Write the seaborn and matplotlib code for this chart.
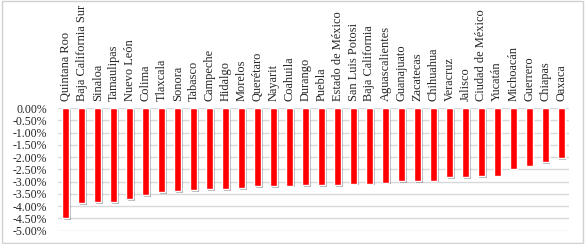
import matplotlib
matplotlib.use("Agg")
import matplotlib.pyplot as plt
import matplotlib.patheffects as pe
from matplotlib.ticker import FuncFormatter
import pandas as pd
import seaborn as sns

states = [
    "Quintana Roo", "Baja California Sur", "Sinaloa", "Tamaulipas", "Nuevo León",
    "Colima", "Tlaxcala", "Sonora", "Tabasco", "Campeche", "Hidalgo", "Morelos",
    "Querétaro", "Nayarit", "Coahuila", "Durango", "Puebla", "Estado de México",
    "San Luis Potosi", "Baja California", "Aguascalientes", "Guanajuato",
    "Zacatecas", "Chihuahua", "Veracruz", "Jalisco", "Ciudad de México",
    "Yucatán", "Michoacán", "Guerrero", "Chiapas", "Oaxaca",
]
change_pct = [
    -4.49, -3.89, -3.85, -3.84, -3.72, -3.56, -3.44, -3.38, -3.36, -3.32,
    -3.32, -3.28, -3.19, -3.18, -3.16, -3.15, -3.14, -3.14, -3.08, -3.08,
    -3.05, -2.99, -2.99, -2.96, -2.81, -2.81, -2.78, -2.76, -2.47, -2.35,
    -2.22, -2.04,
]
y_ticks = [-5.0, -4.5, -4.0, -3.5, -3.0, -2.5, -2.0, -1.5, -1.0, -0.5, 0.0]

df = pd.DataFrame({"state": states, "change": change_pct})

sns.set_style("white")
plt.rcParams["font.family"] = ["Liberation Serif", "DejaVu Serif"]

fig = plt.figure(figsize=(5.85, 2.44), dpi=100)
ax = fig.add_axes([0.099, 0.055, 0.874, 0.502])

sns.barplot(data=df, x="state", y="change", color="#ff0000", saturation=1,
            width=0.44, ax=ax, zorder=3)

# drop shadow like the original office chart
for bar in ax.patches:
    bar.set_path_effects([
        pe.SimplePatchShadow(offset=(1.2, -1.2), shadow_rgbFace="#404040", alpha=0.4),
        pe.Normal(),
    ])

ax.set_ylim(-5.0, 0.0)
ax.set_xlim(-0.5, len(states) - 0.5)
ax.set_yticks(y_ticks)
ax.yaxis.set_major_formatter(FuncFormatter(lambda v, _: f"{v:.2f}%"))
ax.grid(axis="y", color="#d9d9d9", linewidth=1, zorder=0)

ax.xaxis.tick_top()
ax.tick_params(axis="x", labelrotation=90, length=0, pad=5, labelsize=8.9)
ax.tick_params(axis="y", length=0, pad=8, labelsize=8.5)
ax.set_xlabel("")
ax.set_ylabel("")
for s in ax.spines.values():
    s.set_visible(False)

fig.patches.append(plt.Rectangle((0.003, 0.006), 0.994, 0.988, transform=fig.transFigure,
                                 fill=False, edgecolor="#d0d0d0", linewidth=1))

fig.savefig("out.png", dpi=100)
